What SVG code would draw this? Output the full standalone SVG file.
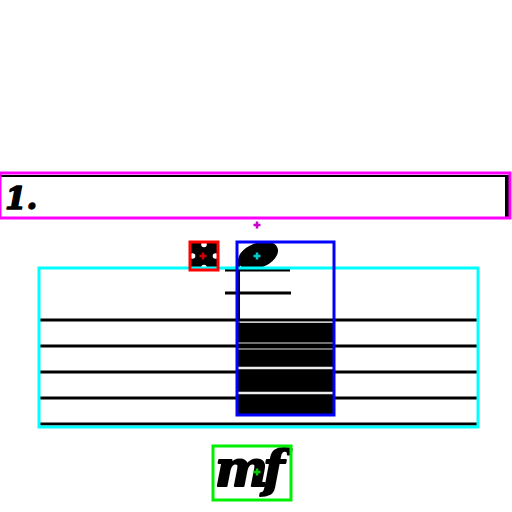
<svg xmlns="http://www.w3.org/2000/svg" width="512" height="512" viewBox="0 0 512 512">
<style>
.staff{stroke:#000;stroke-width:3}
.box{fill:none;stroke-width:3}
.mus{font-family:"DejaVu Serif",serif;font-weight:bold;font-style:italic;fill:#000;stroke:#000;stroke-linejoin:round}
</style>
<defs>
<path id="cross" d="M-3.5,0H3.5M0,-3.5V3.5" stroke-width="2.5"/>
</defs>
<rect width="512" height="512" fill="#fff"/>
<g id="volta">
<path d="M-2,176H508V218" fill="none" stroke="#000" stroke-width="2"/>
<rect x="505" y="175" width="4" height="43" fill="#000"/>
<text class="mus" x="5" y="209" font-size="31" stroke-width="1.5">1.</text>
</g>
<g id="staff">
<line class="staff" x1="38" y1="320" x2="478" y2="320"/>
<line class="staff" x1="38" y1="346" x2="478" y2="346"/>
<line class="staff" x1="38" y1="372" x2="478" y2="372"/>
<line class="staff" x1="38" y1="398" x2="478" y2="398"/>
<line class="staff" x1="38" y1="424" x2="478" y2="424"/>
</g>
<g id="note">
<line x1="225" y1="270" x2="290" y2="270" stroke="#000" stroke-width="3"/>
<line x1="225" y1="293" x2="291" y2="293" stroke="#000" stroke-width="3"/>
<ellipse cx="258" cy="255.5" rx="21" ry="12.5" transform="rotate(-22 258 255.5)" fill="#000"/>
<line x1="239" y1="262" x2="239" y2="416" stroke="#000" stroke-width="2"/>
<rect x="238" y="323" width="96" height="93" fill="#000"/>
<line x1="238" y1="322" x2="334" y2="322" stroke="#999" stroke-width="1.2"/>
<line x1="238" y1="343" x2="334" y2="343" stroke="#999" stroke-width="1.5"/>
<line x1="238" y1="349" x2="334" y2="349" stroke="#999" stroke-width="1.5"/>
<line x1="238" y1="368" x2="334" y2="368" stroke="#eee" stroke-width="2.5"/>
<line x1="238" y1="393" x2="334" y2="393" stroke="#eee" stroke-width="2.5"/>
</g>
<g id="rest">
<rect x="190" y="242" width="28" height="28" fill="#000"/>
<circle cx="204" cy="244.5" r="2.8" fill="#fff"/>
<circle cx="192.5" cy="256" r="2.8" fill="#fff"/>
<circle cx="215.5" cy="256" r="2.8" fill="#fff"/>
<circle cx="204" cy="267.5" r="2.8" fill="#fff"/>
</g>
<g id="dynamic">
<text class="mus" x="215" y="486" font-size="50" stroke-width="2" letter-spacing="-5">mf</text>
</g>
<g id="boxes">
<rect class="box" x="0" y="173" width="510" height="45" stroke="#f0f"/>
<rect class="box" x="39" y="268" width="439" height="159" stroke="#0ff"/>
<rect class="box" x="190" y="242" width="28" height="28" stroke="#f00"/>
<rect class="box" x="237" y="242" width="97" height="173" stroke="#00f"/>
<rect class="box" x="213" y="446" width="78" height="54" stroke="#0e0"/>
</g>
<g id="markers">
<use href="#cross" x="257" y="225" stroke="#c0c"/>
<use href="#cross" x="203" y="256" stroke="#c00"/>
<use href="#cross" x="257" y="256" stroke="#0cc"/>
<use href="#cross" x="257" y="472" stroke="#0c0"/>
</g>
</svg>
